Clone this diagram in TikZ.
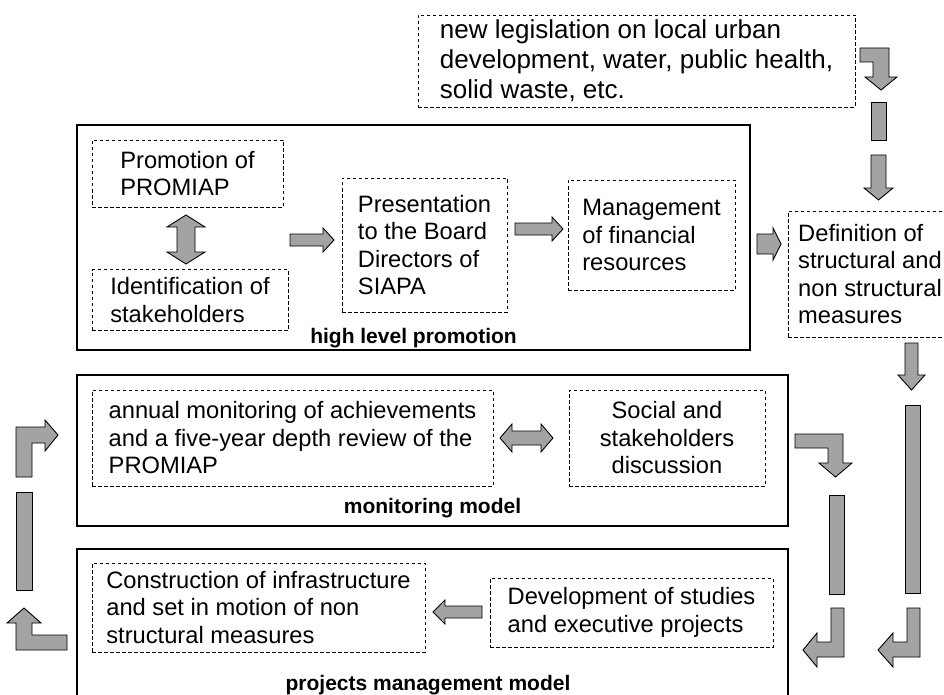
\documentclass[tikz,border=0pt]{standalone}
\usepackage{fontspec}
\setmainfont{Liberation Sans}
\tikzset{
  dbox/.style={draw, dash pattern=on 3.5pt off 2.5pt, line width=0.9pt, inner sep=0pt, align=left},
  panel/.style={draw, line width=1.2pt},
  paneltitle/.style={font=\fontsize{21}{24}\selectfont\bfseries, anchor=base},
  blk/.style={draw, line width=0.9pt, fill=black!36, line join=miter},
}
\begin{document}
\begin{tikzpicture}[x=1pt, y=-1pt, font=\fontsize{23.7}{27.5}\selectfont]
\useasboundingbox (0,0) rectangle (944,695);
% panels
\draw[panel] (77,125) rectangle (750,350);
\draw[panel] (77,375) rectangle (788,526);
\draw[panel] (77,549) rectangle (788,710);
\node[paneltitle] (hltitle) at (413.5,343) {high level promotion};
\node[paneltitle] (montitle) at (432.5,513) {monitoring model};
\node[paneltitle] (pmtitle) at (428,690) {projects management model};
% boxes
\node[dbox, minimum width=437pt, minimum height=92pt, font=\fontsize{26}{30}\selectfont] (legis) at (636.5,61)
  {new legislation on local urban\\development, water, public health,\\solid waste, etc.};
\node[dbox, minimum width=191pt, minimum height=67pt] (promo) at (187.5,173.5)
  {Promotion of\\PROMIAP};
\node[dbox, minimum width=196pt, minimum height=61pt] (ident) at (190,300)
  {Identification of\\stakeholders};
\node[dbox, minimum width=165pt, minimum height=134pt] (present) at (424.5,245)
  {Presentation\\to the Board\\Directors of\\SIAPA};
\node[dbox, minimum width=167pt, minimum height=110pt] (manage) at (651.5,235)
  {Management\\of financial\\resources};
\node[dbox, minimum width=164pt, minimum height=126pt] (define) at (870,274)
  {Definition of\\structural and\\non structural\\measures};
\node[dbox, minimum width=401pt, minimum height=96pt] (annual) at (292.5,438)
  {annual monitoring of achievements\\and a five-year depth review of the\\PROMIAP};
\node[dbox, minimum width=196pt, minimum height=96pt, align=center] (social) at (667,438)
  {Social and\\stakeholders\\discussion};
\node[dbox, minimum width=333pt, minimum height=89pt] (build) at (258.5,607.5)
  {Construction of infrastructure\\and set in motion of non\\structural measures};
\node[dbox, minimum width=283pt, minimum height=69pt] (studies) at (631.5,612.5)
  {Development of studies\\and executive projects};
% block arrows, top right column
\draw[blk] (860,48) -- (889,48) -- (889,77) -- (897,77) -- (881,90) -- (865,77) -- (873,77) -- (873,62) -- (860,62) -- cycle;
\draw[blk] (871,102) rectangle (886,140);
\draw[blk] (871,155) -- (886,155) -- (886,188) -- (893,188) -- (878.5,200) -- (864,188) -- (871,188) -- cycle;
% high level promotion
\draw[blk] (186,215) -- (205,227) -- (195,227) -- (195,252) -- (205,252) -- (186,264) -- (167,252) -- (177,252) -- (177,227) -- (167,227) -- cycle;
\draw[blk] (290,234) -- (323,234) -- (323,228) -- (334,240) -- (323,252) -- (323,246) -- (290,246) -- cycle;
\draw[blk] (515,223) -- (552,223) -- (552,217) -- (563,229) -- (552,241) -- (552,235) -- (515,235) -- cycle;
\draw[blk] (757,234) -- (773,234) -- (773,228) -- (781,244) -- (773,260) -- (773,254) -- (757,254) -- cycle;
% right column
\draw[blk] (905,343) -- (918,343) -- (918,375) -- (925,375) -- (911.5,390) -- (898,375) -- (905,375) -- cycle;
\draw[blk] (905,405) rectangle (920,593);
\draw[blk] (907,608) -- (920,608) -- (920,657) -- (893,657) -- (893,667) -- (878,650) -- (893,633) -- (893,642) -- (907,642) -- cycle;
% middle column
\draw[blk] (795,434) -- (843,434) -- (843,463) -- (852,463) -- (835.5,477) -- (819,463) -- (828,463) -- (828,448) -- (795,448) -- cycle;
\draw[blk] (829,495) rectangle (844,594);
\draw[blk] (831,608) -- (844,608) -- (844,657) -- (817,657) -- (817,667) -- (803,650) -- (817,633) -- (817,642) -- (831,642) -- cycle;
% monitoring and projects
\draw[blk] (500,438) -- (512,424) -- (512,431) -- (541,431) -- (541,424) -- (553,438) -- (541,452) -- (541,445) -- (512,445) -- (512,452) -- cycle;
\draw[blk] (482,606) -- (445,606) -- (445,600) -- (433,612) -- (445,624) -- (445,618) -- (482,618) -- cycle;
% left column
\draw[blk] (16,477) -- (16,427) -- (45,427) -- (45,420) -- (58,435) -- (45,451) -- (45,443) -- (32,443) -- (32,477) -- cycle;
\draw[blk] (16,492) rectangle (32,590);
\draw[blk] (24,608) -- (41,623) -- (32,623) -- (32,635) -- (67,635) -- (67,650) -- (16,650) -- (16,623) -- (7,623) -- cycle;
\end{tikzpicture}
\end{document}
